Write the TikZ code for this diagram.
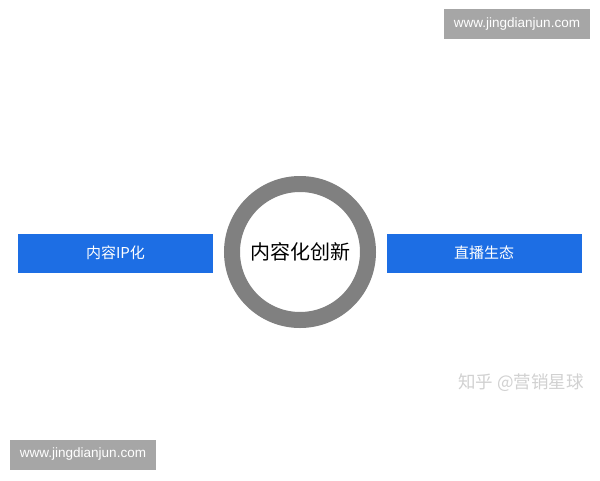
\documentclass[tikz,border=0pt]{standalone}
\usepackage{fontspec}
\setmainfont{Liberation Sans}
\newfontfamily\cjk{Noto Sans CJK SC}
\usetikzlibrary{positioning}

\definecolor{boxblue}{RGB}{29,110,228}
\definecolor{ringgray}{RGB}{128,128,128}
\definecolor{urlgray}{RGB}{166,166,166}

\tikzset{
	bluebox/.style={fill=boxblue, text=white, minimum width=195pt, minimum height=39pt, inner sep=0pt, font=\cjk\fontsize{15}{18}\selectfont},
	urlbox/.style={fill=urlgray, text=white, minimum width=146pt, minimum height=30pt, inner sep=0pt, font=\fontsize{13.5}{16}\selectfont}
}

\begin{document}
\begin{tikzpicture}[x=1pt, y=-1pt]
	\useasboundingbox[fill=white] (0,0) rectangle (600,480);

	% centre ring
	\node[circle, draw=ringgray, line width=16pt, minimum size=136pt, inner sep=0pt, font=\cjk\fontsize{20}{24}\selectfont] (core) at (300,252) {内容化创新};

	\node[bluebox] (ip) at (115.5,253) {内容IP化};
	\node[bluebox] (live) at (484,253) {直播生态};

	% watermarks
	\node[urlbox] (urltop) at (517,24) {www.jingdianjun.com};
	\node[urlbox] (urlbottom) at (83,454.5) {www.jingdianjun.com};
	\node[text=black!18, font=\cjk\fontsize{17.5}{20}\selectfont] (zhihu) at (521,383) {知乎 @营销星球};

\end{tikzpicture}
\end{document}
